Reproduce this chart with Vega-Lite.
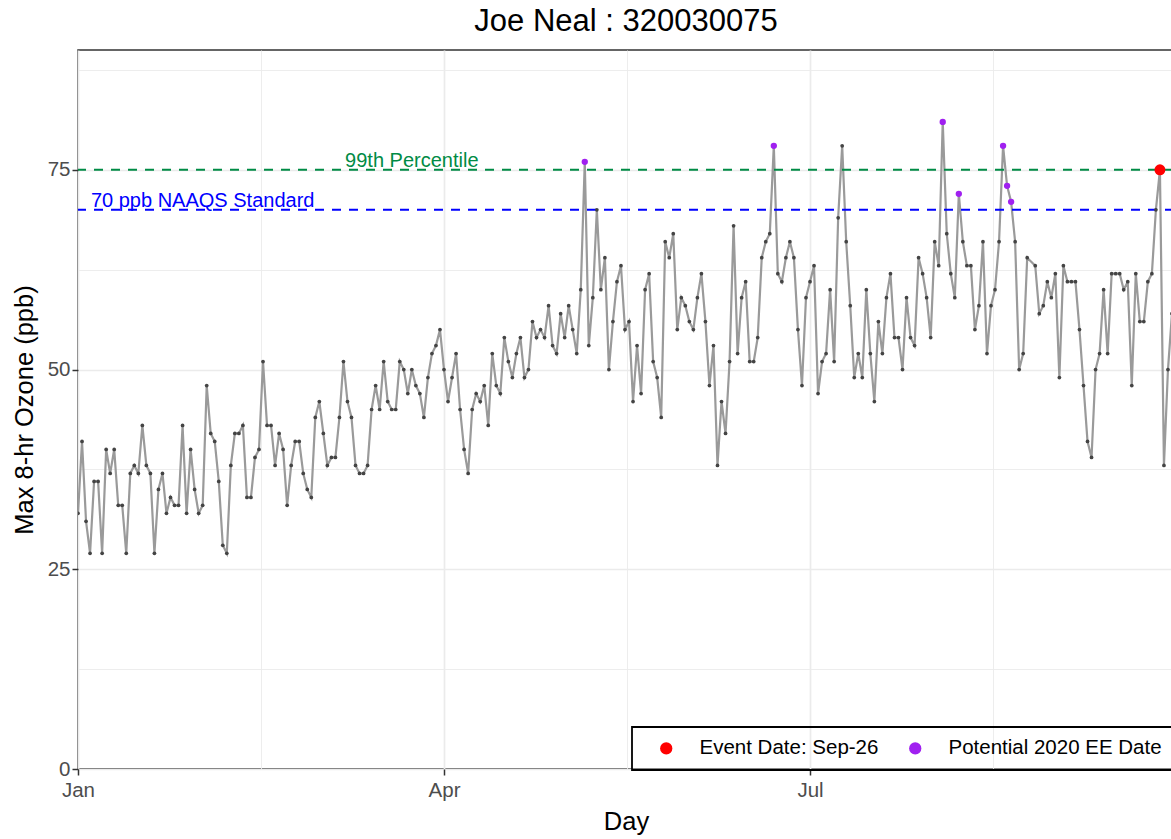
{
  "$schema": "https://vega.github.io/schema/vega-lite/v6.json",
  "width": 1096,
  "height": 719,
  "autosize": {"type": "none"},
  "padding": {"left": 78, "top": 50, "right": 0, "bottom": 70},
  "background": "white",
  "title": {"text": "Joe Neal : 320030075", "fontSize": 31, "font": "Liberation Sans", "fontWeight": "normal", "color": "black", "anchor": "middle", "offset": 12, "frame": "group"},
  "config": {
    "font": "Liberation Sans",
    "view": {"stroke": "#333333", "strokeWidth": 1.5}
  },
  "datasets": {
    "ozone": [
      {"date":"2020-01-01","ozone":32},{"date":"2020-01-02","ozone":41},{"date":"2020-01-03","ozone":31},{"date":"2020-01-04","ozone":27},{"date":"2020-01-05","ozone":36},{"date":"2020-01-06","ozone":36},{"date":"2020-01-07","ozone":27},{"date":"2020-01-08","ozone":40},{"date":"2020-01-09","ozone":37},{"date":"2020-01-10","ozone":40},{"date":"2020-01-11","ozone":33},{"date":"2020-01-12","ozone":33},{"date":"2020-01-13","ozone":27},{"date":"2020-01-14","ozone":37},{"date":"2020-01-15","ozone":38},{"date":"2020-01-16","ozone":37},{"date":"2020-01-17","ozone":43},{"date":"2020-01-18","ozone":38},{"date":"2020-01-19","ozone":37},{"date":"2020-01-20","ozone":27},{"date":"2020-01-21","ozone":35},{"date":"2020-01-22","ozone":37},{"date":"2020-01-23","ozone":32},{"date":"2020-01-24","ozone":34},{"date":"2020-01-25","ozone":33},{"date":"2020-01-26","ozone":33},{"date":"2020-01-27","ozone":43},{"date":"2020-01-28","ozone":32},{"date":"2020-01-29","ozone":40},{"date":"2020-01-30","ozone":35},{"date":"2020-01-31","ozone":32},
      {"date":"2020-02-01","ozone":33},{"date":"2020-02-02","ozone":48},{"date":"2020-02-03","ozone":42},{"date":"2020-02-04","ozone":41},{"date":"2020-02-05","ozone":36},{"date":"2020-02-06","ozone":28},{"date":"2020-02-07","ozone":27},{"date":"2020-02-08","ozone":38},{"date":"2020-02-09","ozone":42},{"date":"2020-02-10","ozone":42},{"date":"2020-02-11","ozone":43},{"date":"2020-02-12","ozone":34},{"date":"2020-02-13","ozone":34},{"date":"2020-02-14","ozone":39},{"date":"2020-02-15","ozone":40},{"date":"2020-02-16","ozone":51},{"date":"2020-02-17","ozone":43},{"date":"2020-02-18","ozone":43},{"date":"2020-02-19","ozone":38},{"date":"2020-02-20","ozone":42},{"date":"2020-02-21","ozone":40},{"date":"2020-02-22","ozone":33},{"date":"2020-02-23","ozone":38},{"date":"2020-02-24","ozone":41},{"date":"2020-02-25","ozone":41},{"date":"2020-02-26","ozone":37},{"date":"2020-02-27","ozone":35},{"date":"2020-02-28","ozone":34},{"date":"2020-02-29","ozone":44},
      {"date":"2020-03-01","ozone":46},{"date":"2020-03-02","ozone":42},{"date":"2020-03-03","ozone":38},{"date":"2020-03-04","ozone":39},{"date":"2020-03-05","ozone":39},{"date":"2020-03-06","ozone":44},{"date":"2020-03-07","ozone":51},{"date":"2020-03-08","ozone":46},{"date":"2020-03-09","ozone":44},{"date":"2020-03-10","ozone":38},{"date":"2020-03-11","ozone":37},{"date":"2020-03-12","ozone":37},{"date":"2020-03-13","ozone":38},{"date":"2020-03-14","ozone":45},{"date":"2020-03-15","ozone":48},{"date":"2020-03-16","ozone":45},{"date":"2020-03-17","ozone":51},{"date":"2020-03-18","ozone":46},{"date":"2020-03-19","ozone":45},{"date":"2020-03-20","ozone":45},{"date":"2020-03-21","ozone":51},{"date":"2020-03-22","ozone":50},{"date":"2020-03-23","ozone":47},{"date":"2020-03-24","ozone":50},{"date":"2020-03-25","ozone":48},{"date":"2020-03-26","ozone":47},{"date":"2020-03-27","ozone":44},{"date":"2020-03-28","ozone":49},{"date":"2020-03-29","ozone":52},{"date":"2020-03-30","ozone":53},{"date":"2020-03-31","ozone":55},
      {"date":"2020-04-01","ozone":50},{"date":"2020-04-02","ozone":46},{"date":"2020-04-03","ozone":49},{"date":"2020-04-04","ozone":52},{"date":"2020-04-05","ozone":45},{"date":"2020-04-06","ozone":40},{"date":"2020-04-07","ozone":37},{"date":"2020-04-08","ozone":45},{"date":"2020-04-09","ozone":47},{"date":"2020-04-10","ozone":46},{"date":"2020-04-11","ozone":48},{"date":"2020-04-12","ozone":43},{"date":"2020-04-13","ozone":52},{"date":"2020-04-14","ozone":48},{"date":"2020-04-15","ozone":47},{"date":"2020-04-16","ozone":54},{"date":"2020-04-17","ozone":51},{"date":"2020-04-18","ozone":49},{"date":"2020-04-19","ozone":52},{"date":"2020-04-20","ozone":54},{"date":"2020-04-21","ozone":49},{"date":"2020-04-22","ozone":50},{"date":"2020-04-23","ozone":56},{"date":"2020-04-24","ozone":54},{"date":"2020-04-25","ozone":55},{"date":"2020-04-26","ozone":54},{"date":"2020-04-27","ozone":58},{"date":"2020-04-28","ozone":53},{"date":"2020-04-29","ozone":52},{"date":"2020-04-30","ozone":57},
      {"date":"2020-05-01","ozone":54},{"date":"2020-05-02","ozone":58},{"date":"2020-05-03","ozone":55},{"date":"2020-05-04","ozone":52},{"date":"2020-05-05","ozone":60},{"date":"2020-05-06","ozone":76,"flag":"Potential 2020 EE Date"},{"date":"2020-05-07","ozone":53},{"date":"2020-05-08","ozone":59},{"date":"2020-05-09","ozone":70},{"date":"2020-05-10","ozone":60},{"date":"2020-05-11","ozone":64},{"date":"2020-05-12","ozone":50},{"date":"2020-05-13","ozone":56},{"date":"2020-05-14","ozone":61},{"date":"2020-05-15","ozone":63},{"date":"2020-05-16","ozone":55},{"date":"2020-05-17","ozone":56},{"date":"2020-05-18","ozone":46},{"date":"2020-05-19","ozone":53},{"date":"2020-05-20","ozone":47},{"date":"2020-05-21","ozone":60},{"date":"2020-05-22","ozone":62},{"date":"2020-05-23","ozone":51},{"date":"2020-05-24","ozone":49},{"date":"2020-05-25","ozone":44},{"date":"2020-05-26","ozone":66},{"date":"2020-05-27","ozone":64},{"date":"2020-05-28","ozone":67},{"date":"2020-05-29","ozone":55},{"date":"2020-05-30","ozone":59},{"date":"2020-05-31","ozone":58},
      {"date":"2020-06-01","ozone":56},{"date":"2020-06-02","ozone":55},{"date":"2020-06-03","ozone":59},{"date":"2020-06-04","ozone":62},{"date":"2020-06-05","ozone":56},{"date":"2020-06-06","ozone":48},{"date":"2020-06-07","ozone":53},{"date":"2020-06-08","ozone":38},{"date":"2020-06-09","ozone":46},{"date":"2020-06-10","ozone":42},{"date":"2020-06-11","ozone":51},{"date":"2020-06-12","ozone":68},{"date":"2020-06-13","ozone":52},{"date":"2020-06-14","ozone":59},{"date":"2020-06-15","ozone":61},{"date":"2020-06-16","ozone":51},{"date":"2020-06-17","ozone":51},{"date":"2020-06-18","ozone":54},{"date":"2020-06-19","ozone":64},{"date":"2020-06-20","ozone":66},{"date":"2020-06-21","ozone":67},{"date":"2020-06-22","ozone":78,"flag":"Potential 2020 EE Date"},{"date":"2020-06-23","ozone":62},{"date":"2020-06-24","ozone":61},{"date":"2020-06-25","ozone":64},{"date":"2020-06-26","ozone":66},{"date":"2020-06-27","ozone":64},{"date":"2020-06-28","ozone":55},{"date":"2020-06-29","ozone":48},{"date":"2020-06-30","ozone":59},
      {"date":"2020-07-01","ozone":61},{"date":"2020-07-02","ozone":63},{"date":"2020-07-03","ozone":47},{"date":"2020-07-04","ozone":51},{"date":"2020-07-05","ozone":52},{"date":"2020-07-06","ozone":60},{"date":"2020-07-07","ozone":51},{"date":"2020-07-08","ozone":69},{"date":"2020-07-09","ozone":78},{"date":"2020-07-10","ozone":66},{"date":"2020-07-11","ozone":58},{"date":"2020-07-12","ozone":49},{"date":"2020-07-13","ozone":52},{"date":"2020-07-14","ozone":49},{"date":"2020-07-15","ozone":60},{"date":"2020-07-16","ozone":52},{"date":"2020-07-17","ozone":46},{"date":"2020-07-18","ozone":56},{"date":"2020-07-19","ozone":52},{"date":"2020-07-20","ozone":59},{"date":"2020-07-21","ozone":62},{"date":"2020-07-22","ozone":54},{"date":"2020-07-23","ozone":54},{"date":"2020-07-24","ozone":50},{"date":"2020-07-25","ozone":59},{"date":"2020-07-26","ozone":54},{"date":"2020-07-27","ozone":53},{"date":"2020-07-28","ozone":64},{"date":"2020-07-29","ozone":62},{"date":"2020-07-30","ozone":59},{"date":"2020-07-31","ozone":54},
      {"date":"2020-08-01","ozone":66},{"date":"2020-08-02","ozone":63},{"date":"2020-08-03","ozone":81,"flag":"Potential 2020 EE Date"},{"date":"2020-08-04","ozone":67},{"date":"2020-08-05","ozone":62},{"date":"2020-08-06","ozone":59},{"date":"2020-08-07","ozone":72,"flag":"Potential 2020 EE Date"},{"date":"2020-08-08","ozone":66},{"date":"2020-08-09","ozone":63},{"date":"2020-08-10","ozone":63},{"date":"2020-08-11","ozone":55},{"date":"2020-08-12","ozone":58},{"date":"2020-08-13","ozone":66},{"date":"2020-08-14","ozone":52},{"date":"2020-08-15","ozone":58},{"date":"2020-08-16","ozone":60},{"date":"2020-08-17","ozone":66},{"date":"2020-08-18","ozone":78,"flag":"Potential 2020 EE Date"},{"date":"2020-08-19","ozone":73,"flag":"Potential 2020 EE Date"},{"date":"2020-08-20","ozone":71,"flag":"Potential 2020 EE Date"},{"date":"2020-08-21","ozone":66},{"date":"2020-08-22","ozone":50},{"date":"2020-08-23","ozone":52},{"date":"2020-08-24","ozone":64},{"date":"2020-08-26","ozone":63},{"date":"2020-08-27","ozone":57},{"date":"2020-08-28","ozone":58},{"date":"2020-08-29","ozone":61},{"date":"2020-08-30","ozone":59},{"date":"2020-08-31","ozone":62},
      {"date":"2020-09-01","ozone":49},{"date":"2020-09-02","ozone":63},{"date":"2020-09-03","ozone":61},{"date":"2020-09-04","ozone":61},{"date":"2020-09-05","ozone":61},{"date":"2020-09-06","ozone":55},{"date":"2020-09-07","ozone":48},{"date":"2020-09-08","ozone":41},{"date":"2020-09-09","ozone":39},{"date":"2020-09-10","ozone":50},{"date":"2020-09-11","ozone":52},{"date":"2020-09-12","ozone":60},{"date":"2020-09-13","ozone":52},{"date":"2020-09-14","ozone":62},{"date":"2020-09-15","ozone":62},{"date":"2020-09-16","ozone":62},{"date":"2020-09-17","ozone":60},{"date":"2020-09-18","ozone":61},{"date":"2020-09-19","ozone":48},{"date":"2020-09-20","ozone":62},{"date":"2020-09-21","ozone":56},{"date":"2020-09-22","ozone":56},{"date":"2020-09-23","ozone":61},{"date":"2020-09-24","ozone":62},{"date":"2020-09-25","ozone":70},{"date":"2020-09-26","ozone":75,"flag":"Event Date: Sep-26"},{"date":"2020-09-27","ozone":38},{"date":"2020-09-28","ozone":50},{"date":"2020-09-29","ozone":57}
    ]
  },
  "layer": [
    {
      "data": {"name": "ozone"},
      "mark": {"type": "line", "color": "#9A9A9A", "strokeWidth": 2.2, "clip": true},
      "encoding": {
        "x": {
          "field": "date", "type": "temporal",
          "scale": {"type": "utc", "domain": [{"year": 2020, "month": 1, "date": 1, "utc": true}, {"year": 2020, "month": 9, "date": 29, "hours": 12, "utc": true}]},
          "axis": {
            "title": "Day", "titleFontSize": 25.5, "titleColor": "black", "titleFontWeight": "normal", "titlePadding": 9, "titleFont": "Liberation Sans",
            "values": [
              {"year": 2020, "month": 1, "date": 1, "utc": true},
              {"year": 2020, "month": 2, "date": 15, "hours": 12, "utc": true},
              {"year": 2020, "month": 4, "date": 1, "utc": true},
              {"year": 2020, "month": 5, "date": 16, "hours": 12, "utc": true},
              {"year": 2020, "month": 7, "date": 1, "utc": true},
              {"year": 2020, "month": 8, "date": 15, "hours": 12, "utc": true}
            ],
            "format": "%b",
            "labelExpr": "utcmonth(datum.value) % 3 === 0 ? datum.label : ''",
            "labelFontSize": 20.5, "labelColor": "#4D4D4D", "labelFlush": false, "labelOverlap": false, "labelPadding": 5, "labelFont": "Liberation Sans",
            "tickSize": 6, "tickColor": "#333333", "tickWidth": 1.5,
            "tickOpacity": {"condition": {"test": "utcmonth(datum.value) % 3 === 0", "value": 1}, "value": 0},
            "gridColor": "#EBEBEB",
            "gridWidth": {"condition": {"test": "utcmonth(datum.value) % 3 === 0", "value": 1.7}, "value": 0.9},
            "domain": false
          }
        },
        "y": {
          "field": "ozone", "type": "quantitative",
          "scale": {"domain": [0, 90], "nice": false},
          "axis": {
            "title": "Max 8-hr Ozone (ppb)", "titleFontSize": 25.5, "titleColor": "black", "titleFontWeight": "normal", "titlePadding": 10, "titleFont": "Liberation Sans",
            "values": [0, 12.5, 25, 37.5, 50, 62.5, 75, 87.5],
            "labelExpr": "datum.value % 25 === 0 ? datum.label : ''",
            "labelFontSize": 20.5, "labelColor": "#4D4D4D", "labelPadding": 2, "labelFont": "Liberation Sans",
            "tickSize": 6, "tickColor": "#333333", "tickWidth": 1.5,
            "tickOpacity": {"condition": {"test": "datum.value % 25 === 0", "value": 1}, "value": 0},
            "gridColor": "#EBEBEB",
            "gridWidth": {"condition": {"test": "datum.value % 25 === 0", "value": 1.7}, "value": 0.9},
            "domain": false
          }
        }
      }
    },
    {
      "data": {"values": [{}]},
      "mark": {"type": "rule", "color": "#008B45", "strokeDash": [9, 8], "strokeWidth": 2},
      "encoding": {"y": {"datum": 75, "type": "quantitative"}}
    },
    {
      "data": {"values": [{}]},
      "mark": {"type": "rule", "color": "#0000FF", "strokeDash": [9, 8], "strokeWidth": 2},
      "encoding": {"y": {"datum": 70, "type": "quantitative"}}
    },
    {
      "data": {"name": "ozone"},
      "mark": {"type": "point", "filled": true, "color": "#444444", "size": 14, "opacity": 1, "clip": true},
      "encoding": {
        "x": {"field": "date", "type": "temporal"},
        "y": {"field": "ozone", "type": "quantitative"}
      }
    },
    {
      "data": {"name": "ozone"},
      "transform": [{"filter": "isValid(datum.flag)"}],
      "mark": {"type": "point", "filled": true, "opacity": 1, "clip": true},
      "encoding": {
        "x": {"field": "date", "type": "temporal"},
        "y": {"field": "ozone", "type": "quantitative"},
        "size": {"condition": {"test": "datum.flag === 'Event Date: Sep-26'", "value": 120}, "value": 40},
        "color": {
          "field": "flag", "type": "nominal",
          "scale": {"domain": ["Event Date: Sep-26", "Potential 2020 EE Date"], "range": ["#FF0000", "#A020F0"]},
          "legend": {
            "title": null, "orient": "none", "legendX": 554, "legendY": 677, "direction": "horizontal",
            "labelFontSize": 20.5, "labelColor": "black", "labelFont": "Liberation Sans", "labelLimit": 500,
            "symbolType": "circle", "symbolSize": 150, "symbolStrokeWidth": 0, "symbolOpacity": 1,
            "symbolOffset": 13, "labelOffset": 23, "columnPadding": 13, "padding": 11,
            "strokeColor": "black", "cornerRadius": 0,
            "encode": {"legend": {"update": {"strokeWidth": {"value": 1.8}}}}
          }
        }
      }
    },
    {
      "data": {"values": [{}]},
      "mark": {"type": "text", "text": "99th Percentile", "color": "#008B45", "fontSize": 20, "font": "Liberation Sans", "align": "center", "baseline": "middle"},
      "encoding": {
        "x": {"datum": {"year": 2020, "month": 3, "date": 24, "utc": true}, "type": "temporal"},
        "y": {"datum": 76.1, "type": "quantitative"}
      }
    },
    {
      "data": {"values": [{}]},
      "mark": {"type": "text", "text": "70 ppb NAAQS Standard", "color": "#0000FF", "fontSize": 20, "font": "Liberation Sans", "align": "center", "baseline": "middle"},
      "encoding": {
        "x": {"datum": {"year": 2020, "month": 2, "date": 1, "utc": true}, "type": "temporal"},
        "y": {"datum": 71.1, "type": "quantitative"}
      }
    }
  ]
}
